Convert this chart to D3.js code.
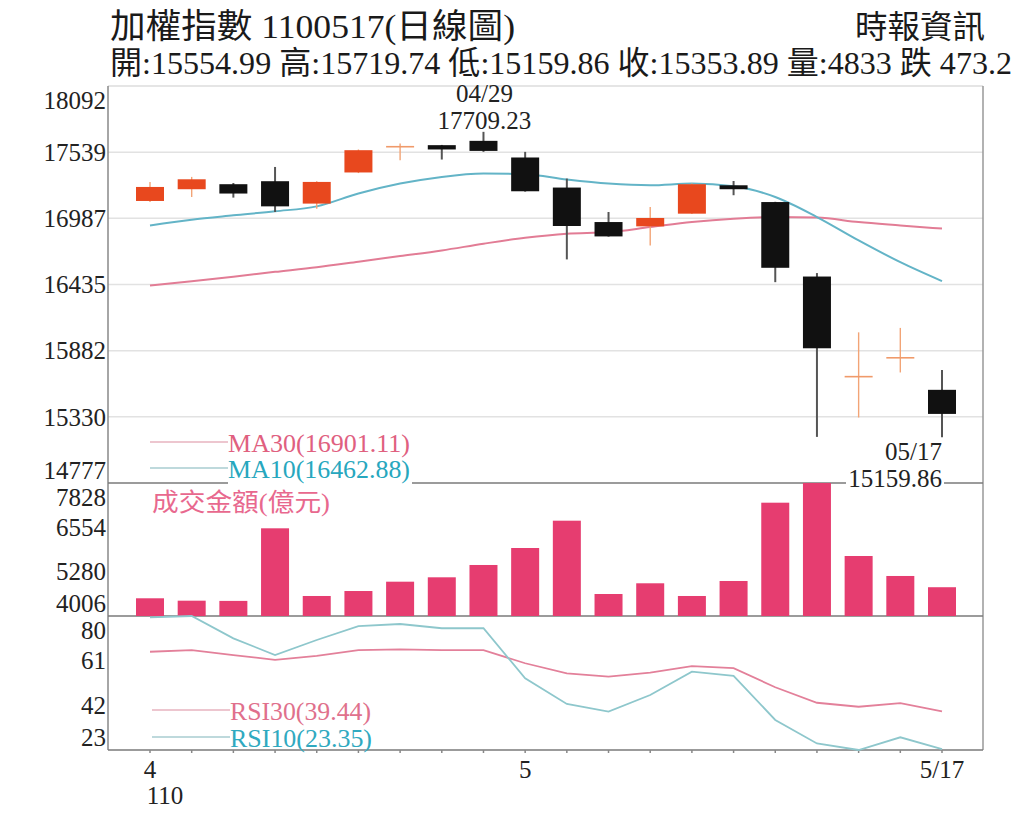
<!DOCTYPE html>
<html>
<head>
<meta charset="utf-8">
<script src="https://cdn.jsdelivr.net/npm/d3@7/dist/d3.min.js"></script>
<style>
  html, body { margin: 0; padding: 0; background: #fff; }
  svg { display: block; }
</style>
</head>
<body>
<svg id="chart" width="1024" height="837"></svg>
<script>
// ---------------- DATA ----------------
const dates = ["4/19","4/20","4/21","4/22","4/23","4/26","4/27","4/28","4/29","5/3",
               "5/4","5/5","5/6","5/7","5/10","5/11","5/12","5/13","5/14","5/17"];
const openP  = [17132, 17230, 17272, 17297, 17110, 17370, 17582, 17598, 17634, 17495,
                17244, 16956, 16920, 17026, 17263, 17123, 16501, 15660, 15818, 15554.99];
const closeP = [17249, 17313, 17194, 17087, 17291, 17556, 17588, 17562, 17550, 17213,
                16923, 16836, 16990, 17272, 17230, 16574, 15902, 15670, 15827, 15353.89];
const highP  = [17291, 17333, 17282, 17416, 17296, 17562, 17612, 17600, 17709.23, 17542,
                17319, 17040, 17082, 17278, 17299, 17125, 16530, 16035, 16072, 15719.74];
const lowP   = [17124, 17165, 17160, 17040, 17068, 17365, 17473, 17478, 17542, 17210,
                16644, 16834, 16761, 17024, 17180, 16454, 15162, 15324, 15700, 15159.86];
const ma10   = [16928, 16976, 17012, 17046, 17087, 17194, 17277, 17333, 17361, 17355,
                17311, 17277, 17263, 17277, 17255, 17165, 16998, 16803, 16621, 16462.88];
const ma30   = [16426, 16462, 16500, 16540, 16579, 16625, 16672, 16719, 16775, 16825,
                16859, 16872, 16914, 16956, 16984, 16998, 16993, 16956, 16928, 16901.11];
const volume = [4515, 4446, 4440, 6526, 4581, 4724, 4992, 5118, 5472, 5960,
                6745, 4638, 4946, 4581, 5012, 7262, 7828, 5730, 5156, 4833];
const rsi10  = [79.4, 80.0, 70.5, 63.4, 69.8, 75.7, 76.6, 74.8, 74.8, 53.5,
                42.6, 39.3, 46.4, 56.3, 54.5, 35.8, 25.8, 23.0, 28.4, 23.35];
const rsi30  = [64.8, 65.5, 63.4, 61.3, 63.0, 65.5, 65.8, 65.5, 65.5, 59.9,
                55.6, 54.2, 55.9, 58.7, 57.8, 49.7, 43.1, 41.4, 42.9, 39.44];

const priceTicks = [18092, 17539, 16987, 16435, 15882, 15330, 14777];
const volTicks   = [7828, 6554, 5280, 4006];
const rsiTicks   = [80, 61, 42, 23];
const xTickDates  = ["4/19", "5/3", "5/17"];
const xTickLabels = ["4", "5", "5/17"];

const titleText = "加權指數 1100517(日線圖)";
const sourceText = "時報資訊";
const quoteText = "開:15554.99 高:15719.74 低:15159.86 收:15353.89 量:4833 跌 473.2";
const volTitle = "成交金額(億元)";
const highLabel = ["04/29", "17709.23"];
const lowLabel = ["05/17", "15159.86"];
const highIdx = 8, lowIdx = 19;

// ---------------- LAYOUT ----------------
const FONT = "'Liberation Serif', 'DejaVu Serif', 'Noto Sans CJK TC', serif";
const L = 108, R = 983;
const pTop = 86, pBot = 483, vBot = 616, rBot = 750;
const svg = d3.select("#chart");

const x = d3.scalePoint().domain(dates).range([150, 942]);
const yP = d3.scaleLinear().domain([priceTicks[6], priceTicks[0]]).range([pBot, pTop]);
const yV = d3.scaleLinear().domain([volTicks[3], volTicks[0]]).range([vBot, pBot]);
const yR = d3.scaleLinear().domain([rsiTicks[3], rsiTicks[0]]).range([rBot, vBot]);
const cw = 28;

const RED = "#e8481e", BLACK = "#111111";

function txt(sel) { return sel.attr("font-family", FONT); }

// grid lines in price panel
svg.append("g").selectAll("line").data(priceTicks.slice(1, 6)).join("line")
  .attr("x1", L).attr("x2", R).attr("y1", d => yP(d)).attr("y2", d => yP(d))
  .attr("stroke", "#e2e2e2").attr("stroke-width", 1.5);

// frame
svg.append("line").attr("x1", L).attr("x2", R).attr("y1", pTop).attr("y2", pTop)
  .attr("stroke", "#dcdcdc").attr("stroke-width", 1.5);
svg.append("line").attr("x1", L).attr("x2", L).attr("y1", pTop).attr("y2", rBot)
  .attr("stroke", "#888").attr("stroke-width", 1.5);
svg.append("line").attr("x1", R).attr("x2", R).attr("y1", pTop).attr("y2", rBot)
  .attr("stroke", "#999").attr("stroke-width", 1.5);
[pBot, vBot, rBot].forEach(yy => {
  svg.append("line").attr("x1", L).attr("x2", R).attr("y1", yy).attr("y2", yy)
    .attr("stroke", "#7a7a7a").attr("stroke-width", 1.6);
});
// bottom ticks
svg.append("g").selectAll("line").data(dates).join("line")
  .attr("x1", d => x(d)).attr("x2", d => x(d)).attr("y1", rBot).attr("y2", rBot + 3)
  .attr("stroke", "#888").attr("stroke-width", 1.5);

// ---------------- MA lines ----------------
const lineP = d3.line().x((d, i) => x(dates[i])).y(d => yP(d)).curve(d3.curveMonotoneX);
svg.append("path").attr("d", lineP(ma30)).attr("fill", "none")
  .attr("stroke", "#e27c95").attr("stroke-width", 2);
svg.append("path").attr("d", lineP(ma10)).attr("fill", "none")
  .attr("stroke", "#63b4c7").attr("stroke-width", 2);

// ---------------- Candles ----------------
const candles = svg.append("g");
dates.forEach((d, i) => {
  const up = closeP[i] >= openP[i];
  const cx = x(d);
  const top = yP(Math.max(openP[i], closeP[i]));
  const bot = yP(Math.min(openP[i], closeP[i]));
  const thin = (bot - top) < 2;
  candles.append("line").attr("x1", cx).attr("x2", cx)
    .attr("y1", yP(highP[i])).attr("y2", yP(lowP[i]))
    .attr("stroke", up ? "#f2a476" : "#555").attr("stroke-width", up ? 1.4 : 2);
  if (thin) {
    candles.append("line").attr("x1", cx - cw / 2).attr("x2", cx + cw / 2)
      .attr("y1", (top + bot) / 2).attr("y2", (top + bot) / 2)
      .attr("stroke", up ? "#f09a6a" : BLACK).attr("stroke-width", 1.6);
  } else {
    candles.append("rect").attr("x", cx - cw / 2).attr("width", cw)
      .attr("y", top).attr("height", Math.max(bot - top, 3))
      .attr("fill", up ? RED : BLACK);
  }
});

// ---------------- Volume bars ----------------
svg.append("g").selectAll("rect").data(volume).join("rect")
  .attr("x", (d, i) => x(dates[i]) - cw / 2).attr("width", cw)
  .attr("y", d => yV(d)).attr("height", d => vBot - yV(d))
  .attr("fill", "#e63d70");

// ---------------- RSI lines ----------------
const lineR = d3.line().x((d, i) => x(dates[i])).y(d => yR(d));
svg.append("path").attr("d", lineR(rsi30)).attr("fill", "none")
  .attr("stroke", "#e3809a").attr("stroke-width", 1.8);
svg.append("path").attr("d", lineR(rsi10)).attr("fill", "none")
  .attr("stroke", "#8ec7cc").attr("stroke-width", 1.8);

// ---------------- Axis labels ----------------
function axisLabels(ticks, scale, top, bot) {
  txt(svg.append("g").selectAll("text").data(ticks).join("text"))
    .attr("x", 106).attr("text-anchor", "end")
    .attr("y", d => Math.min(Math.max(scale(d), top + 14), bot - 13))
    .attr("dy", "0.35em").attr("font-size", 25).attr("fill", "#222")
    .text(d => d);
}
axisLabels(priceTicks, yP, pTop, pBot);
axisLabels(volTicks, yV, pBot, vBot);
axisLabels(rsiTicks, yR, vBot, rBot);

txt(svg.append("g").selectAll("text").data(xTickLabels).join("text"))
  .attr("x", (d, i) => x(xTickDates[i])).attr("y", 778)
  .attr("text-anchor", "middle").attr("font-size", 25).attr("fill", "#222")
  .text(d => d);
txt(svg.append("text")).attr("x", x(xTickDates[0]) + 15).attr("y", 804)
  .attr("text-anchor", "middle").attr("font-size", 25).attr("fill", "#222").text("110");

// ---------------- Legends ----------------
function legend(y0, color, lineColor, label, len, x0) {
  svg.append("line").attr("x1", x0 - 78).attr("x2", x0).attr("y1", y0).attr("y2", y0)
    .attr("stroke", lineColor).attr("stroke-width", 1.5);
  txt(svg.append("text")).attr("x", x0).attr("y", y0 + 10).attr("font-size", 25)
    .attr("fill", color).attr("textLength", len).attr("lengthAdjust", "spacingAndGlyphs")
    .text(label);
}
// white knockout behind MA10 legend on separator
svg.append("rect").attr("x", 228).attr("y", 458).attr("width", 184).attr("height", 28).attr("fill", "#fff");
legend(442, "#e0607f", "#e7b3bf", "MA30(" + ma30[19].toFixed(2) + ")", 182, 228);
legend(468, "#27a7be", "#a9cdd0", "MA10(" + ma10[19].toFixed(2) + ")", 182, 228);
legend(710, "#e0708c", "#e7b3bf", "RSI30(" + rsi30[19].toFixed(2) + ")", 141, 230);
legend(737, "#30a9c0", "#a9cdd0", "RSI10(" + rsi10[19].toFixed(2) + ")", 142, 230);

txt(svg.append("text")).attr("x", 152).attr("y", 511).attr("font-size", 25)
  .attr("fill", "#e8688e").attr("textLength", 178).attr("lengthAdjust", "spacingAndGlyphs")
  .text(volTitle);

// ---------------- Extreme annotations ----------------
txt(svg.append("text")).attr("x", x(dates[highIdx]) + 1).attr("y", 102).attr("text-anchor", "middle")
  .attr("font-size", 25).attr("fill", "#222").text(highLabel[0]);
txt(svg.append("text")).attr("x", x(dates[highIdx]) + 1).attr("y", 129).attr("text-anchor", "middle")
  .attr("font-size", 25).attr("fill", "#222").text(highLabel[1]);
svg.append("rect").attr("x", 846).attr("y", 467).attr("width", 98).attr("height", 24).attr("fill", "#fff");
txt(svg.append("text")).attr("x", x(dates[lowIdx])).attr("y", 460).attr("text-anchor", "end")
  .attr("font-size", 25).attr("fill", "#222").text(lowLabel[0]);
txt(svg.append("text")).attr("x", x(dates[lowIdx])).attr("y", 487).attr("text-anchor", "end")
  .attr("font-size", 25).attr("fill", "#222").text(lowLabel[1]);

// ---------------- Header ----------------
txt(svg.append("text")).attr("x", 110).attr("y", 38).attr("font-size", 34).attr("fill", "#1a1a1a")
  .attr("textLength", 405).attr("lengthAdjust", "spacingAndGlyphs").text(titleText);
txt(svg.append("text")).attr("x", 855).attr("y", 38).attr("font-size", 32).attr("fill", "#1a1a1a")
  .attr("textLength", 130).attr("lengthAdjust", "spacingAndGlyphs").text(sourceText);
txt(svg.append("text")).attr("x", 110).attr("y", 74).attr("font-size", 32).attr("fill", "#1a1a1a")
  .attr("textLength", 902).attr("lengthAdjust", "spacingAndGlyphs").text(quoteText);
</script>
</body>
</html>
